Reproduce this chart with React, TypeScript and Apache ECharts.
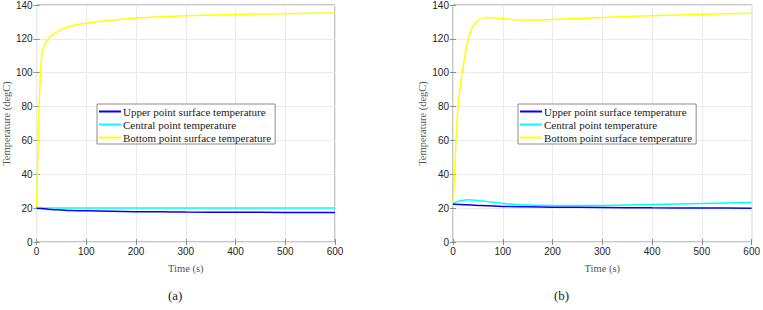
import React, { useEffect, useRef } from "react";
import * as echarts from "echarts";

const seriesNames = [
  "Upper point surface temperature",
  "Central point temperature",
  "Bottom point surface temperature",
];
const seriesColors = ["#0000ff", "#00ffff", "#ffff00"];
const panelLabels = ["(a)", "(b)"];
const xTicks = [0, 100, 200, 300, 400, 500, 600];
const yTicks = [0, 20, 40, 60, 80, 100, 120, 140];

// Panel (a)
const tA_upper = [0, 10, 20, 30, 50, 70, 100, 150, 200, 250, 300, 400, 500, 600];
const a_upper = [20, 19.8, 19.5, 19.2, 18.9, 18.6, 18.4, 18.1, 17.9, 17.8, 17.7, 17.6, 17.5, 17.4];
const tA_central = [0, 10, 50, 100, 200, 300, 400, 500, 600];
const a_central = [20, 20.1, 20.1, 20.1, 20.1, 20.1, 20.1, 20.1, 20.1];
const tA_bottom = [0, 2, 4, 6, 8, 10, 12, 15, 20, 25, 30, 40, 50, 60, 70, 80, 100, 125, 150, 200, 250, 300, 350, 400, 450, 500, 550, 600];
const a_bottom = [20, 45, 70, 88, 101, 109.5, 113, 116, 118.5, 120.5, 122, 124, 125.6, 126.7, 127.6, 128.3, 129.3, 130.3, 131, 132.3, 133.1, 133.7, 134.1, 134.4, 134.7, 134.9, 135.1, 135.3];

// Panel (b)
const tB_upper = [0, 25, 50, 100, 150, 200, 300, 400, 500, 600];
const b_upper = [22.3, 22, 21.6, 21, 20.8, 20.6, 20.4, 20.2, 20.1, 20];
const tB_central = [0, 10, 20, 30, 45, 60, 80, 100, 125, 150, 200, 250, 300, 400, 500, 600];
const b_central = [22.5, 24, 24.7, 24.9, 24.7, 24.2, 23.5, 22.8, 22.2, 21.8, 21.6, 21.5, 21.6, 22.2, 22.8, 23.4];
const tB_bottom = [0, 3, 6, 10, 15, 20, 25, 30, 35, 40, 50, 60, 70, 80, 100, 125, 150, 175, 200, 250, 300, 350, 400, 450, 500, 550, 600];
const b_bottom = [22, 40, 60, 80, 93, 103, 112, 119, 124, 127.5, 130.8, 132.1, 132.6, 132.5, 131.9, 131.3, 131.1, 131.2, 131.4, 132, 132.6, 133.2, 133.7, 134.1, 134.5, 134.8, 135.1];

const zip = (t: number[], v: number[]) => t.map((x, i) => [x, v[i]]);

export default function App() {
  const ref = useRef<HTMLDivElement>(null);
  useEffect(() => {
    if (!ref.current) return;
    const chart = echarts.init(ref.current, null, { renderer: "svg" });
    const gridLefts = [33, 453];
    const tickFont = { fontFamily: "Liberation Sans, Arial, sans-serif", fontSize: 10, color: "#262626" };
    const serif = "Liberation Serif, DejaVu Serif, serif";
    const grids = gridLefts.map((l) => ({
      left: l,
      top: 5,
      width: 302,
      height: 237,
      show: true,
      borderColor: "#8c8c8c",
      borderWidth: 1,
      backgroundColor: "#ffffff",
    }));
    const xAxes: any[] = [];
    const yAxes: any[] = [];
    [0, 1].forEach((g) => {
      xAxes.push({
        type: "value",
        gridIndex: g,
        min: 0,
        max: 600,
        interval: 100,
        axisLine: { show: false },
        axisTick: { show: true, inside: true, length: 3, lineStyle: { color: "#8c8c8c" } },
        axisLabel: { ...tickFont, margin: 4 },
        splitLine: { show: true, lineStyle: { color: "#ebebeb", width: 1 } },
        name: "Time (s)",
        nameLocation: "middle",
        nameGap: 21,
        nameTextStyle: { fontFamily: serif, fontSize: 10.5, color: "#555555" },
      });
      xAxes.push({
        type: "value",
        gridIndex: g,
        position: "top",
        min: 0,
        max: 600,
        interval: 100,
        axisLine: { show: false },
        axisTick: { show: true, inside: true, length: 3, lineStyle: { color: "#8c8c8c" } },
        axisLabel: { show: false },
        splitLine: { show: false },
      });
      yAxes.push({
        type: "value",
        gridIndex: g,
        min: 0,
        max: 140,
        interval: 20,
        axisLine: { show: false },
        axisTick: { show: true, inside: true, length: 3, lineStyle: { color: "#8c8c8c" } },
        axisLabel: { ...tickFont, margin: 4 },
        splitLine: { show: true, lineStyle: { color: "#ebebeb", width: 1 } },
        name: "Temperature (degC)",
        nameLocation: "middle",
        nameGap: 22,
        nameTextStyle: { fontFamily: serif, fontSize: 10.5, color: "#555555" },
      });
      yAxes.push({
        type: "value",
        gridIndex: g,
        position: "right",
        min: 0,
        max: 140,
        interval: 20,
        axisLine: { show: false },
        axisTick: { show: true, inside: true, length: 3, lineStyle: { color: "#8c8c8c" } },
        axisLabel: { show: false },
        splitLine: { show: false },
      });
    });
    const panelData = [
      [zip(tA_upper, a_upper), zip(tA_central, a_central), zip(tA_bottom, a_bottom)],
      [zip(tB_upper, b_upper), zip(tB_central, b_central), zip(tB_bottom, b_bottom)],
    ];
    const series: any[] = [];
    panelData.forEach((pd, g) => {
      pd.forEach((d, i) => {
        series.push({
          type: "line",
          name: seriesNames[i],
          xAxisIndex: g * 2,
          yAxisIndex: g * 2,
          data: d,
          symbol: "none",
          smooth: g === 0 && i === 2 ? false : 0.3,
          lineStyle: { color: seriesColors[i], width: 1.5 },
          itemStyle: { color: seriesColors[i] },
          z: 3 - i + 2,
        });
      });
    });
    const legendLefts = [97, 518];
    const legends = legendLefts.map((l) => ({
      left: l,
      top: 104,
      orient: "vertical",
      data: seriesNames.map((n) => ({ name: n, icon: "rect" })),
      itemWidth: 22,
      itemHeight: 2,
      itemGap: 2,
      padding: [2, 4, 1, 2],
      backgroundColor: "#ffffff",
      borderColor: "#8c8c8c",
      borderWidth: 1,
      borderRadius: 0,
      selectedMode: false,
      textStyle: { fontFamily: serif, fontSize: 11, color: "#222222", padding: [0, 0, 0, -3], height: 9, lineHeight: 9 },
    }));
    chart.setOption({
      animation: false,
      backgroundColor: "#ffffff",
      grid: grids,
      xAxis: xAxes,
      yAxis: yAxes,
      series,
      legend: legends,
      graphic: panelLabels.map((txt, i) => ({
        type: "text",
        left: i === 0 ? 168 : 554,
        top: 289,
        style: { text: txt, fontFamily: serif, fontSize: 13, fill: "#222222" },
      })),
    });
    return () => chart.dispose();
  }, []);
  return (
    <div
      ref={ref}
      style={{ position: "absolute", left: 0, top: 0, width: 763, height: 310 }}
    />
  );
}
